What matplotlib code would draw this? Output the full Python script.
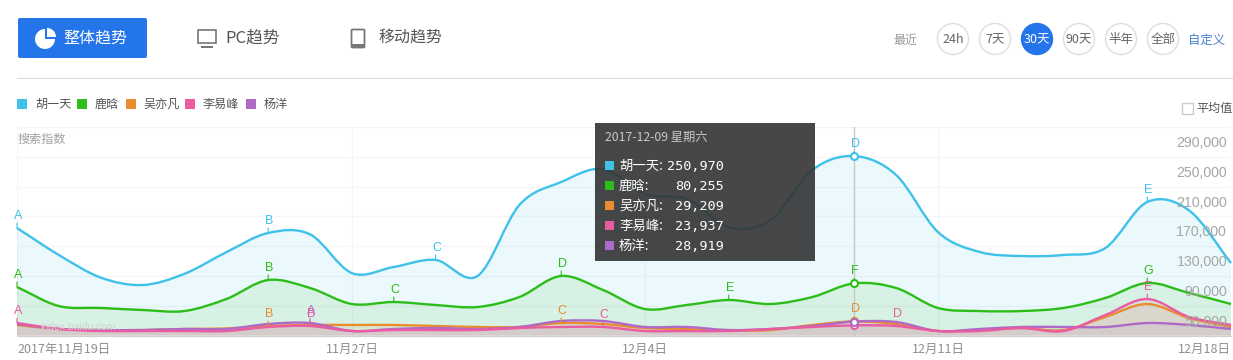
import matplotlib
matplotlib.use('Agg')
import matplotlib.pyplot as plt
import numpy as np
from matplotlib.patches import Rectangle, Circle, FancyBboxPatch, PathPatch, Wedge
from matplotlib.path import Path

plt.rcParams['font.family'] = ['Noto Sans CJK SC', 'DejaVu Sans']

#datos, un valor por dia
names = ['胡一天', '鹿晗', '吴亦凡', '李易峰', '杨洋']
colors = ['#3fc1ea', '#2cbd18', '#e98c2e', '#ea5ba2', '#ad6ac6']
hu = [154500, 118300, 88000, 78000, 93000, 122000, 147800, 146000, 94000, 102200,
      111600, 90100, 185300, 216200, 233600, 200000, 193400, 155800, 165200, 232300,
      250970, 225600, 149100, 122300, 116900, 118300, 127700, 189400, 178000, 107500]
lu = [75300, 49800, 47200, 44500, 43100, 59200, 84700, 74000, 52500, 55200,
      51200, 48500, 61900, 90100, 71300, 45800, 51200, 57900, 52500, 61900,
      80255, 74000, 47200, 43100, 43100, 47200, 60600, 80700, 67300, 52500]
wu = [24400, 19000, 17600, 17600, 19000, 19700, 23000, 24400, 24400, 24400,
      23000, 21700, 21700, 27000, 25700, 20300, 19000, 17000, 17600, 24400,
      29209, 25700, 16300, 17600, 20300, 17600, 35100, 52500, 33700, 21700]
li = [27000, 19000, 16300, 16300, 16300, 16300, 21700, 23000, 16300, 17600,
      17600, 17600, 20300, 21700, 21700, 16300, 16300, 16300, 19000, 21700,
      23937, 23000, 16300, 16300, 20300, 16300, 37800, 59200, 35100, 24400]
yang = [25700, 19000, 17600, 17600, 19000, 19000, 25700, 27000, 16300, 19000,
        20300, 19000, 21700, 29700, 29700, 21700, 21700, 17600, 19000, 23000,
        28919, 28400, 16300, 19000, 21700, 21700, 21700, 27000, 24400, 19000]
series = [hu, lu, wu, li, yang]

days = np.arange(30)
tick_days = [0, 8, 15, 22, 29]
tick_labels = ['2017年11月19日', '11月27日', '12月4日', '12月11日', '12月18日']
y_ticks = [290000, 250000, 210000, 170000, 130000, 90000, 50000]
y_labels = ['290,000', '250,000', '210,000', '170,000', '130,000', '90,000', '50,000']
#letras de cada serie: (indice de serie, dia, letra)
flags = [(0, 0, 'A'), (0, 6, 'B'), (0, 10, 'C'), (0, 20, 'D'), (0, 27, 'E'),
         (1, 0, 'A'), (1, 6, 'B'), (1, 9, 'C'), (1, 13, 'D'), (1, 17, 'E'), (1, 20, 'F'), (1, 27, 'G'),
         (2, 6, 'B'), (2, 13, 'C'), (2, 20, 'D'),
         (4, 7, 'A'),
         (3, 0, 'A'), (3, 7, 'B'), (3, 14, 'C'), (3, 21, 'D'), (3, 27, 'E')]
tip_names = ['胡一天:', '鹿晗:', '吴亦凡:', '李易峰:', '杨洋:']
tip_values = ['250,970', '80,255', '29,209', '23,937', '28,919']
ranges = ['24h', '7天', '30天', '90天', '半年', '全部']

W, H = 1233, 360
fig = plt.figure(figsize=(W / 100, H / 100), dpi=100, facecolor='white')

#____Area del grafico
ax = fig.add_axes([17 / W, 1 - 335.7 / H, 1214 / W, 208.7 / H])
ax.set_xlim(0, 29)
ax.set_ylim(10000, 290000)
ax.patch.set_alpha(0)
for s in ax.spines.values():
    s.set_visible(False)
ax.spines['bottom'].set_visible(True)
ax.spines['bottom'].set_color('#d0d0d0')
ax.set_yticks(y_ticks)
ax.set_yticklabels([])
ax.tick_params(axis='y', length=0)
ax.set_xticks(tick_days)
ax.set_xticklabels(tick_labels, color='#8f8f8f', fontsize=9)
ax.tick_params(axis='x', length=0, pad=5.5)
lbls = ax.get_xticklabels()
lbls[0].set_ha('left')
lbls[-1].set_ha('right')
ax.grid(True, axis='y', color='#f5f5f5', lw=1)
ax.grid(True, axis='x', color='#f5f5f5', lw=1)
ax.set_axisbelow(True)


def curve(xs, ys):
    #curva bezier que pasa por los valores de cada dia
    xs = np.asarray(xs, float)
    ys = np.asarray(ys, float)
    dy = np.gradient(ys)
    verts = [(xs[0], ys[0])]
    codes = [Path.MOVETO]
    for i in range(len(xs) - 1):
        verts.append((xs[i] + 1 / 3, ys[i] + dy[i] / 3))
        verts.append((xs[i + 1] - 1 / 3, ys[i + 1] - dy[i + 1] / 3))
        verts.append((xs[i + 1], ys[i + 1]))
        codes += [Path.CURVE4, Path.CURVE4, Path.CURVE4]
    return verts, codes


for vals, col in zip(series, colors):
    verts, codes = curve(days, vals)
    fv = verts + [(days[-1], 10000), (days[0], 10000), verts[0]]
    fc = codes + [Path.LINETO, Path.LINETO, Path.CLOSEPOLY]
    ax.add_patch(PathPatch(Path(fv, fc), facecolor=col, edgecolor='none', alpha=0.1, zorder=2))
for i in [0, 1, 2, 4, 3]:
    verts, codes = curve(days, series[i])
    ax.add_patch(PathPatch(Path(verts, codes), facecolor='none', edgecolor=colors[i], lw=1.7, zorder=3, clip_on=False))

#linea vertical y puntos del dia seleccionado
ax.axvline(20, color='#c8c8c8', lw=1, zorder=2.5)
for vals, col in zip(series, colors):
    ax.plot(days[20], vals[20], 'o', ms=5, mfc='white', mec=col, mew=1.5, zorder=5)

#letras sobre las curvas
for s_i, d, letter in flags:
    col = colors[s_i]
    v = series[s_i][d]
    ax.annotate('', xy=(d, v), xytext=(0, 5), textcoords='offset pixels',
                arrowprops=dict(arrowstyle='-', color=col, lw=0.8, shrinkA=0, shrinkB=0), zorder=4)
    ax.annotate(letter, xy=(d, v), xytext=(1, 6), textcoords='offset pixels', ha='center', va='bottom',
                color=col, fontsize=9, zorder=6, annotation_clip=False, family='Liberation Sans')

for v, lab in zip(y_ticks, y_labels):
    ax.annotate(lab, xy=(29, v), xytext=(-4, -16), textcoords='offset pixels', ha='right', va='center',
                color='#a6a6a6', fontsize=10.2, zorder=4, annotation_clip=False, family='Liberation Sans')

#____Capa de la pagina en pixeles
ui = fig.add_axes([0, 0, 1, 1], zorder=10)
ui.set_xlim(0, W)
ui.set_ylim(H, 0)
ui.axis('off')
ui.patch.set_alpha(0)

ui.add_patch(FancyBboxPatch((20, 20), 125, 36, boxstyle='round,pad=2,rounding_size=2', fc='#2474ea', ec='none'))
ui.add_patch(Wedge((45, 39), 10, 0, 270, fc='white', ec='none'))
ui.add_patch(Wedge((47, 37), 9, 270, 360, fc='white', ec='none'))
ui.text(63, 38, '整体趋势', color='white', fontsize=11.5, va='center')

ui.add_patch(Rectangle((198, 30), 18, 13, fc='none', ec='#777777', lw=1.2))
ui.add_patch(Rectangle((201, 46), 12, 1.5, fc='#777777', ec='none'))
ui.text(225, 38, 'PC趋势', color='#555555', fontsize=12, va='center')
ui.add_patch(FancyBboxPatch((352, 30), 12, 17, boxstyle='round,pad=0.5,rounding_size=1', fc='white', ec='#777777', lw=1.3))
ui.add_patch(Rectangle((351.5, 43.5), 13, 4, fc='#777777', ec='none'))
ui.text(378, 38, '移动趋势', color='#555555', fontsize=11.5, va='center')

ui.text(905, 40, '最近', color='#999999', fontsize=8.6, ha='center', va='center')
for i, lab in enumerate(ranges):
    cx = 953 + 42 * i
    sel = lab == '30天'
    ui.add_patch(Circle((cx, 39), 15.5, fc='#2474ea' if sel else 'white', ec='#2474ea' if sel else '#dedede', lw=1))
    ui.text(cx, 39.5, lab, color='white' if sel else '#666666', fontsize=9, ha='center', va='center')
ui.text(1207, 40, '自定义', color='#4a7fd0', fontsize=8.9, ha='center', va='center')
ui.plot([17, 1232], [78, 78], color='#dddddd', lw=0.8)

#leyenda
legend_x = [17, 77, 126, 185, 246]
for x, nm, col in zip(legend_x, names, colors):
    ui.add_patch(Rectangle((x, 99), 10, 10, fc=col, ec='none'))
    ui.text(x + 18, 104, nm, color='#555555', fontsize=8.7, va='center')
ui.add_patch(Rectangle((1182, 103), 11, 11, fc='white', ec='#cccccc', lw=1))
ui.text(1196, 108, '平均值', color='#555555', fontsize=8.7, va='center')
ui.text(17, 139, '搜索指数', color='#a0a0a0', fontsize=8.7, va='center')
ui.text(40, 327, 'index.baidu.com', color='#d2d2d2', fontsize=7.5, va='center', family='Liberation Sans')

#tooltip
ui.add_patch(Rectangle((595, 123), 220, 138, fc='#333333', ec='none', alpha=0.9))
ui.text(605, 137, '2017-12-09 星期六', color='#c8c8c8', fontsize=8.8, va='center')
for i in range(5):
    y = 166 + i * 20
    ui.add_patch(Rectangle((605, y - 5), 9, 9, fc=colors[i], ec='none'))
    ui.text(619, y, tip_names[i], color='white', fontsize=9.6, va='center')
    ui.text(724, y, tip_values[i], color='white', fontsize=9.7, va='center', ha='right', family='DejaVu Sans Mono')

fig.savefig('out.png', dpi=100, facecolor='white')
